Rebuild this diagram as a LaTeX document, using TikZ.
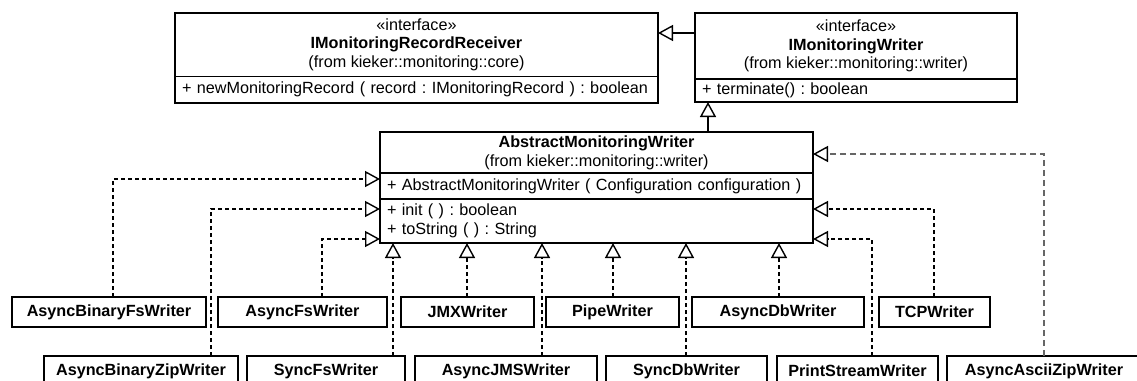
\documentclass[tikz,border=0pt]{standalone}
\usepackage{fontspec}
\setmainfont{Liberation Sans}
\usetikzlibrary{arrows.meta}
\usetikzlibrary{positioning}

\newcommand{\umlfont}{\fontsize{16.2pt}{18.8pt}\selectfont\frenchspacing}

\tikzset{
  head/.style={draw, line width=1.4pt, outer sep=0pt, inner sep=0pt, align=center, anchor=north west},
  ops/.style={draw, line width=1.4pt, outer sep=0pt, inner xsep=7pt, inner ysep=0pt, align=left},
  impl/.style={draw, line width=1.4pt, outer sep=0pt, inner sep=0pt, font=\umlfont\bfseries, anchor=north west, minimum height=30pt},
  gen/.style={-{Triangle[open, length=15pt, width=16pt, line width=1.4pt, color=black]}, line width=1.3pt},
  real/.style={gen, dash pattern=on 4pt off 3pt},
  realgray/.style={gen, draw=black!60, dash pattern=on 6pt off 4pt},
}

\begin{document}
\begin{tikzpicture}[x=1pt, y=-1pt, font=\umlfont]
  \useasboundingbox (0,0) rectangle (1137,380);

  % interfaces
  \node[head, minimum width=483pt, minimum height=63.5pt] (rec) at (175,13)
    {«interface»\\\textbf{IMonitoringRecordReceiver}\\(from kieker::monitoring::core)};
  \node[ops, text width=469pt, minimum height=26.5pt, below=0pt of rec] (recops)
    {+ newMonitoringRecord ( record : IMonitoringRecord ) : boolean};

  \node[head, minimum width=322pt, minimum height=66pt] (wri) at (695,13)
    {«interface»\\\textbf{IMonitoringWriter}\\(from kieker::monitoring::writer)};
  \node[ops, text width=308pt, minimum height=23pt, below=0pt of wri] (wriops)
    {+ terminate() : boolean};

  % abstract writer
  \node[head, minimum width=433pt, minimum height=41pt] (abs) at (380,132)
    {\textbf{AbstractMonitoringWriter}\\(from kieker::monitoring::writer)};
  \node[ops, text width=419pt, minimum height=26pt, below=0pt of abs] (absctor)
    {+ AbstractMonitoringWriter ( Configuration configuration )};
  \node[ops, text width=419pt, minimum height=44pt, below=0pt of absctor] (absops)
    {+ init ( ) : boolean\\+ toString ( ) : String};

  % writers, upper row
  \node[impl, minimum width=194pt] (bfs)  at (12,297)  {AsyncBinaryFsWriter};
  \node[impl, minimum width=169pt] (afs)  at (218,297) {AsyncFsWriter};
  \node[impl, minimum width=133pt] (jmx)  at (401,297) {JMXWriter};
  \node[impl, minimum width=133pt] (pipe) at (546,297) {PipeWriter};
  \node[impl, minimum width=172pt] (adb)  at (692,297) {AsyncDbWriter};
  \node[impl, minimum width=111pt] (tcp)  at (879,297) {TCPWriter};

  % writers, lower row
  \node[impl, minimum width=194pt] (bzw) at (44,356)  {AsyncBinaryZipWriter};
  \node[impl, minimum width=158pt] (sfs) at (247,356) {SyncFsWriter};
  \node[impl, minimum width=182pt] (jms) at (415,356) {AsyncJMSWriter};
  \node[impl, minimum width=161pt] (sdb) at (606,356) {SyncDbWriter};
  \node[impl, minimum width=161pt] (psw) at (777,356) {PrintStreamWriter};
  \node[impl, minimum width=194pt] (azw) at (947,356) {AsyncAsciiZipWriter};

  % generalisation
  \draw[gen] (wri.north west |- 0,33) -- (rec.north east |- 0,33);
  \draw[gen] (abs.north -| 708,0) -- (wriops.south -| 708,0);

  % realisation, left
  \draw[real] (bfs.north -| 113,0) |- (abs.north west |- 0,179);
  \draw[real] (bzw.north -| 211,0) |- (abs.north west |- 0,209);
  \draw[real] (afs.north -| 322,0) |- (abs.north west |- 0,239);

  % realisation, below
  \draw[real] (sfs.north -| 393,0)  -- (absops.south -| 393,0);
  \draw[real] (jmx.north -| 467,0)  -- (absops.south -| 467,0);
  \draw[real] (jms.north -| 542,0)  -- (absops.south -| 542,0);
  \draw[real] (pipe.north -| 613,0) -- (absops.south -| 613,0);
  \draw[real] (sdb.north -| 686,0)  -- (absops.south -| 686,0);
  \draw[real] (adb.north -| 779,0)  -- (absops.south -| 779,0);

  % realisation, right
  \draw[real] (psw.north -| 872,0) |- (abs.north east |- 0,239);
  \draw[real] (tcp.north -| 934,0) |- (abs.north east |- 0,209);
  \draw[realgray] (azw.north -| 1044,0) |- (abs.north east |- 0,154);
\end{tikzpicture}
\end{document}
